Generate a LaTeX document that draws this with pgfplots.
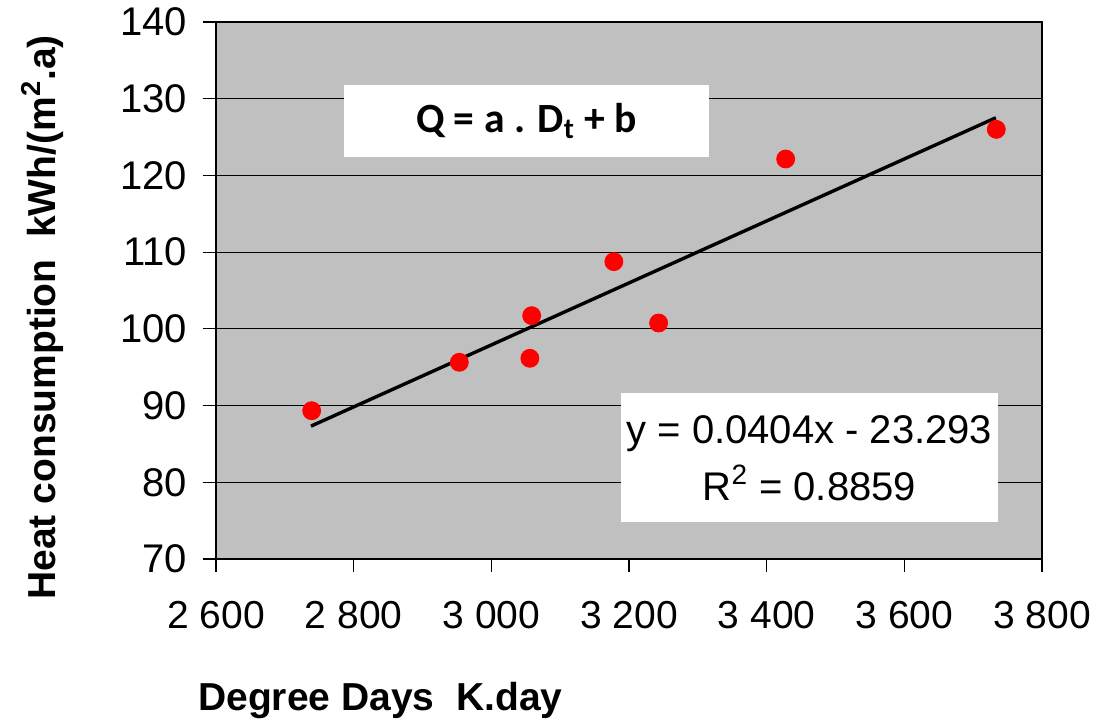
\documentclass[border=0pt]{standalone}
\usepackage{fontspec}
\setmainfont{Liberation Sans}
\newfontfamily\calibri{Carlito}
\usepackage{pgfplots}
\pgfplotsset{compat=1.18}
\definecolor{bgGray}{HTML}{C0C0C0}
\begin{document}
\begin{tikzpicture}
\begin{axis}[
  name=ax,
  scale only axis, width=413pt, height=268.5pt,
  xmin=2600, xmax=3800, ymin=70, ymax=140,
  xtick={2600,2800,3000,3200,3400,3600,3800},
  ytick={70,80,90,100,110,120,130,140},
  axis background/.style={fill=bgGray},
  ymajorgrids, major grid style={black, line width=0.6pt},
  tick align=outside, major tick length=6.5pt,
  tick style={black, line width=0.6pt},
  axis line style={black, line width=0.6pt},
  xtick pos=left, ytick pos=left,
  /pgf/number format/assume math mode=true,
  /pgf/number format/1000 sep={\ },
  xticklabel style={font=\fontsize{19.5}{22}\selectfont, anchor=north, yshift=-11pt},
  yticklabel style={font=\fontsize{20}{22}\selectfont, anchor=east, xshift=-4.5pt},
  xlabel={\bfseries Degree Days\ \ K.day},
  ylabel={\bfseries Heat consumption\ \ kWh/(m\textsuperscript{2}.a)},
  xlabel style={font=\fontsize{19.5}{22}\selectfont, at={(axis description cs:0.199,-0.263)}, anchor=center},
  ylabel style={font=\fontsize{19.5}{22}\selectfont, at={(axis description cs:-0.21,0.45)}, anchor=center, rotate=0},
  clip=false,
]
\addplot[only marks, mark=*, mark size=4.5pt, color=red, mark options={fill=red, draw=red}] coordinates {
  (2739,89.33) (2953.5,95.64) (3056,96.16) (3058.6,101.72)
  (3178,108.76) (3243,100.76) (3427.6,122.14) (3733.6,126.0)
};
\addplot[black, line width=1.7pt, no marks] coordinates {
  (2738,87.32) (3733,127.52)
};
\node[fill=white, minimum width=182.5pt, minimum height=36pt, inner sep=0pt,
      font=\calibri\bfseries\fontsize{20.8}{24}\selectfont]
  at (axis cs:3051,127.1) {Q = a . D\textsubscript{t} + b};
\node[fill=white, minimum width=188.5pt, minimum height=64.5pt, inner sep=0pt, align=center,
      font=\fontsize{20}{28.5}\selectfont]
  at (axis cs:3462,83.2) {y = 0.0404x - 23.293\\R\textsuperscript{2} = 0.8859};
\end{axis}
\pgfresetboundingbox
\path[use as bounding box] ([xshift=-108pt,yshift=-80.5pt]ax.south west) rectangle ([xshift=26.5pt,yshift=11pt]ax.north east);
\end{tikzpicture}
\end{document}
